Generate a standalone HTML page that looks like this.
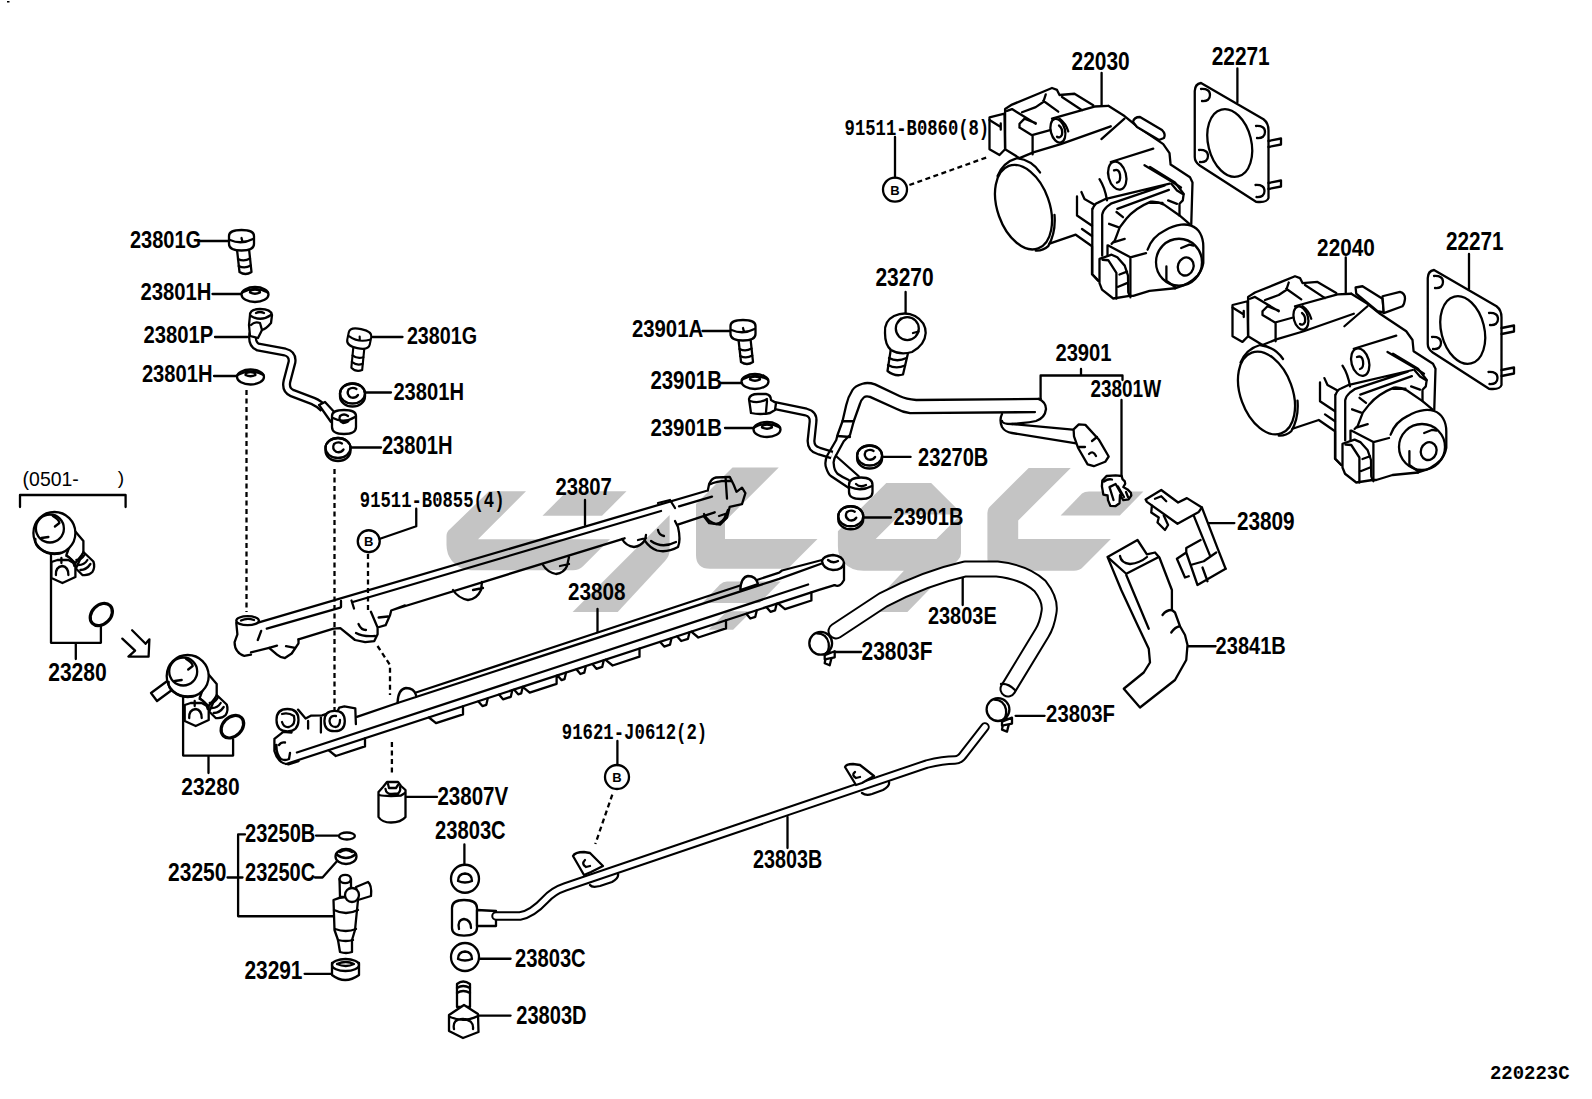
<!DOCTYPE html>
<html><head><meta charset="utf-8"><title>Fuel system diagram</title>
<style>
html,body{margin:0;padding:0;background:#fff;overflow:hidden}
svg{display:block}
.lb{font-family:"Liberation Sans",sans-serif;font-weight:bold;fill:#000}
.lr{font-family:"Liberation Sans",sans-serif;fill:#000}
.lm{font-family:"Liberation Mono",monospace;font-weight:bold;fill:#000}
.a{fill:none;stroke:#000;stroke-width:2.3;stroke-linejoin:round;stroke-linecap:round}
.w{fill:#fff;stroke:#000;stroke-width:2.3;stroke-linejoin:round;stroke-linecap:round}
.d{fill:none;stroke:#000;stroke-width:2.3;stroke-dasharray:5 3.5}
</style></head><body>
<svg width="1592" height="1099" viewBox="0 0 1592 1099">
<rect width="1592" height="1099" fill="#fff"/>
<g fill="#c4c4c4" stroke="none">
<path d="M489,491.3 L526,491.3 L478,539.3 L610,539.3 L583,566.3 Q579,570.3 573,570.3 L471,570.3 Q461,570.3 454,563 L452,561 Q446.5,554 446.5,545 L446.5,536 Q446.5,532 449.5,529.5 Z"/>
<path d="M567,491.3 L626.5,491.3 L602,515.8 L542.5,515.8 Z"/>
<path d="M669.6,515 L669.6,550 Q669.6,556 665,561 L617.7,612 L572.6,612 Z"/>
<path d="M732.5,467.5 L778.75,467.5 L725,521.25 L725,539 L817.5,539 L789.5,567 Q787.75,568.75 784,568.75 L710,568.75 Q696,568.75 696,555 L696,504 Z"/>
<path d="M727,581.4 L780.6,581.4 L759.5,603 L702.3,603 L720,584.5 Q723,581.4 727,581.4 Z"/>
<path d="M726.9,611.3 L751.6,611.3 L733.1,629.8 L708.5,629.8 Z"/>
<path fill-rule="evenodd" d="M886.3,482.9 L931.1,482.9 L961,512.8 L961,553 Q961,557 958,560 L907.4,612.1 L865.2,612.1 L903.9,570.8 L863.4,570.8 Q851,570.8 843,562 Q837.9,556 837.9,546 L837.9,531.3 Z M875.7,539.1 L900.3,514.5 L961,514.5 L936.4,539.1 Z"/>
<path d="M1028.7,467.9 L1070.8,467.9 L1018.2,520.5 L1018.2,539.1 L1110.9,539.1 L1083,567 Q1079.5,570.8 1074,570.8 L1000,570.8 Q987.4,570.8 987.4,558 L987.4,513 Q987.4,509.2 990,506.6 Z"/>
<path d="M1089,491.4 L1143.4,491.4 L1119.8,515.6 L1060.6,515.6 L1082,493.5 Q1084.5,491.4 1089,491.4 Z"/>
</g>

<g class="a" id="leaders">
<path d="M200,241H229 M212.5,294H241 M215,337H247.5 M214,376H237.5 M372.5,337H402.5 M365,392.5H391 M350,447.5H381"/>
<path d="M702.5,331H731 M721,383H742.5 M725,428H754 M905.6,292V317 M883.75,456.9H910.6 M862.5,517.5H891"/>
<path d="M1040.6,399V375.5H1122.5V380 M1081,369V375.5 M1121.5,400V476"/>
<path d="M1208.75,523.1H1234.4 M1187.5,646.25H1215.6 M585,500V525 M597.5,609V632 M962.7,577V605 M834.2,652H861.2 M1015.6,715.8H1044.6"/>
<path d="M51,553.75V642.8H100.9V626.5 M75.8,643V659 M183.1,695V755.6H233.1V739.4 M208.5,757V773"/>
<path d="M20,507V495H125.6V507"/>
<path d="M416.25,508.75V526.25L380,538.75"/>
<circle cx="368.75" cy="541.25" r="11"/>
<path d="M895,137V177.5"/><circle cx="895" cy="189.6" r="12"/>
<path d="M617.4,741V765"/><circle cx="617" cy="777" r="12"/>
<path d="M405.6,796.9H437 M464.4,844.4V865 M479.4,958.75H510.6 M478.75,1015.6H510.6 M787.5,817V848"/>
<path d="M227.5,877.5H242.5 M245,834.4H238.1V916.25H335 M316,835.6H337.5 M315,877.5H322.5L336.25,861.9 M304.6,973.8H331.2"/>
<path d="M1101.6,72.8V105.3 M1237.4,68.4V102.3 M1345.75,257.5V292.5 M1469,254V289"/>
</g>
<g class="d">
<path d="M246.5,390V612 M334.5,469V710 M368,554V612 M377.5,646L390,665V695 M391.9,742V776"/>
<path d="M909.4,185L988.1,156.9 M612.3,794.6L595.3,844"/>
</g>
<g font-family="Liberation Sans" font-weight="bold" font-size="13" text-anchor="middle">
<text x="368.75" y="546">B</text><text x="895" y="194.5">B</text><text x="617" y="782">B</text>
</g>

<rect x="7" y="1" width="2.5" height="1.5" fill="#000"/>
<defs>
<g id="bolt">
<path class="w" d="M-5,14 L-2,41 Q4,45 10,41 L7,13 Z"/>
<path class="a" d="M-3.5,28 Q2.5,31 8.5,27.5 M-2.8,35 Q3.2,38 9.2,34.5"/>
<path class="w" d="M-12.5,5 Q-12.5,-1 0,-1 Q12.5,-1 12.5,5 L12.5,13 Q12.5,19.5 0,19.5 Q-12.5,19.5 -12.5,13 Z"/>
<path class="a" d="M-11.5,9 Q0,14 11.5,8 M0,7 L1,11"/>
</g>
<g id="washerF">
<ellipse class="w" cx="0" cy="2" rx="13.5" ry="7.5"/>
<path class="a" d="M-13,0 Q0,-7 13,0"/>
<path class="a" d="M-5,0 Q-5,-3 0,-3 Q5,-3 5,0 Q0,2.5 -5,0"/>
</g>
<g id="washerR">
<path class="w" d="M-12.5,-1 A12.5,10 0 0 1 12.5,-1 L12.5,2 A12.5,10 0 0 1 -12.5,2 Z"/>
<ellipse class="a" cx="0" cy="-1" rx="12.5" ry="10"/>
<path class="a" d="M4,-5.5 Q0,-8 -4,-5 Q-6.5,0 -1.5,3 Q3,4 5.5,0.5"/>
</g>
</defs>
<use href="#bolt" x="241.5" y="231"/>
<use href="#bolt" x="743" y="321"/>
<g transform="translate(361,330) scale(0.92,0.95) rotate(12)"><use href="#bolt"/></g>
<use href="#washerF" x="255" y="292.5"/>
<use href="#washerF" x="250.5" y="375"/>
<use href="#washerF" x="755" y="379.5"/>
<use href="#washerF" x="767" y="427.5"/>
<use href="#washerR" x="352.5" y="394.5"/>
<use href="#washerR" x="338" y="449"/>
<use href="#washerR" x="869.6" y="456.5"/>
<use href="#washerR" x="850.75" y="517.25"/>
<!-- 23801P pipe -->
<g>
<path fill="none" stroke="#000" stroke-width="9" stroke-linejoin="round" stroke-linecap="butt" d="M253,333 Q251,344 258,347 L285,352 Q293,354 292,362 L287,381 Q285,390 292,393 L313,401 Q320,404 324,409"/>
<path fill="none" stroke="#fff" stroke-width="4.4" stroke-linejoin="round" d="M253,333 Q251,344 258,347 L285,352 Q293,354 292,362 L287,381 Q285,390 292,393 L313,401 Q320,404 324,409"/>
<path class="w" d="M319,405 L325,402 L337,415 L331,422 Z"/>
<path class="w" d="M332,416 Q332,410 344,410 Q356,410 356,416 L356,427 Q356,434 344,434 Q332,434 332,427 Z"/>
<path class="a" d="M333,418 Q344,424 355,417 M348,416 Q344,413 340,416 Q338,421 343,423 Q348,423 349,420"/>
<path class="w" d="M250,315 Q250,309 260,309 Q271,309 272,315 L271,323 Q266,329 262,330 L258,338 L250,336 L249,325 Z"/>
<path class="a" d="M251,316 Q261,322 271,315 M256,313 Q260,311 264,313"/>
<path class="a" d="M251,325 Q255,321 260,323 L262,330"/>
</g>
<!-- 23901 small pipe from banjo 23901A -->
<g>
<path fill="none" stroke="#000" stroke-width="9" stroke-linejoin="round" d="M772,405 L806,412 Q814,414 813,422 L811,441 Q811,449 819,451 L832,455"/>
<path fill="none" stroke="#fff" stroke-width="4.4" stroke-linejoin="round" d="M772,405 L806,412 Q814,414 813,422 L811,441 Q811,449 819,451 L832,455"/>
<path class="w" d="M749,399 Q750,394 758,394 L766,394 Q771,395 771,400 L776,403 L775,410 L770,413 Q760,415 751,413 Z"/>
<path class="a" d="M750,401 Q759,404 767,399 M767,401 L766,412"/>
</g>
<!-- rail 23807 -->
<g class="a">
<path d="M258.9,622.4 L706,491"/>
<path d="M266.8,628.6 L340.3,607.7 M352.8,602 L661,511 M679,506.3 L712,496.6"/>
<path d="M251,652.4 L269.1,647.8 L277,645.6 M298.5,639.4 L333.5,628.6 L340.3,628.1 L355,640 L365.2,642.2 L374.3,641.1 L377.6,634.3 L377.6,627.5 L370.9,611.7 M377.6,627.5 L385.6,625.2 L390.1,615 L391.2,610.5 L405,605.4 M392.5,610 L624.6,538.3 M677.8,524.6 L714.7,512.3"/>
<ellipse class="w" cx="247.6" cy="620.7" rx="11.3" ry="4.5"/>
<path d="M241,620.5 Q247,617.5 254,620"/>
<path d="M236.3,623 L237.4,634.3 L234.6,642.2 Q234.5,648 237.4,651.2 Q240,655 244.2,655.8 L251,654.6 M257.8,640 L261.2,630.9"/>
<path d="M269.1,647.8 L277,654.6 Q281,658 284.9,658 L291.7,653.5 L298.5,643.3 L298.5,639.4 M286,646.1 L295.1,647.8"/>
<path d="M358.5,624 Q361,630 366,630 M356,633 Q363,637 375,636 M341,601 L341,607 M351.5,600.5 L354,608.5 M378.6,617.5 L388,616.5"/>
<!-- cups -->
<path d="M453,590 Q458,598 468,600 Q477,599 481,590 L482,582 M473,590 L483,588"/>
<path d="M543,565 Q547,572 556,574 Q564,573 567,566 L569,557 M560,566 L569,564"/>
<path d="M622,539 Q626,546 634,547 Q641,546 645,540 L646,535 M638,540 L646,538"/>
<path d="M704,514 Q708,522 716,524 Q723,523 726,515 L728,510 M719,516 L728,513"/>
<!-- bracket 2 -->
<path d="M645,541 Q650,548 657,550.5 Q667,553 678,547 Q681,540 678,527 L675,521 M651,541 Q662,549 676,542 M658,530 Q659,535 664,536"/>
<path d="M658,503 L670,500 L675,508"/>
<!-- end fitting right -->
<path d="M707.8,490.5 L709.2,483.7 Q712,478 716,477.5 L729.7,476.8 L733.8,485 L736.5,491.8 L742,487.7 L745.4,493.2 L742,504.1 L729.7,506.9 L727,517.8 L720.1,524.6 L709.2,523.2 L703.8,516.4"/>
<path d="M709.5,484.5 Q718,480 731,481 M725.6,478.2 L727,498.7"/>
</g>
<!-- rail 23808 -->
<g class="a">
<path d="M356.9,716.9 L397.5,703 M416,692.5 L779.2,572.6 L782,570.5 L822,560"/>
<path d="M416,697 L779.2,578.8 L824.5,562.5"/>
<path d="M296.9,752.5 L808.1,584.5"/>
<path d="M286,764 L818.2,590.2 L834.5,585.1"/>
<path class="w" d="M397.5,703 Q398,689 406,688 Q414,688 416,695 L416,697 L397.5,703 Z"/>
<path class="w" d="M740.3,590 Q741,577 748,576 Q756,576 758,584 L740.3,590 Z"/>
<path class="w" d="M822,561 Q823,556 833,555 Q843,556 844,563 Q843,570 833,570 Q823,569 822,561 Z"/>
<path d="M828,560 Q833,564 838,561"/>
<path d="M844,563 L844,580 Q840,588 834.5,585.1"/>
<!-- cups under 23808 -->
<path d="M328.8,750.3 L335.8,756.0 L365.0,746.4 L365.0,738.4 M429.0,717.5 L436.0,723.2 L463.0,714.4 L463.0,706.4 M478.4,701.4 L482.4,706.1 L486.3,704.8 L487.8,698.3 M499.0,694.6 L503.0,699.3 L510.8,696.8 L512.3,690.3 M514.2,689.7 L518.2,694.3 L521.2,693.4 L522.7,686.9 M522.7,686.9 L529.7,692.6 L556.6,683.8 L556.6,675.8 M557.6,675.5 L561.6,680.2 L564.5,679.2 L566.0,672.7 M576.4,669.3 L580.4,674.0 L584.3,672.7 L585.8,666.2 M592.4,664.1 L596.4,668.8 L602.2,666.9 L603.7,660.4 M605.6,659.8 L612.6,665.5 L639.5,656.7 L639.5,648.7 M660.2,641.9 L664.2,646.6 L670.0,644.7 L671.5,638.2 M677.2,636.4 L681.2,641.0 L688.0,638.8 L689.5,632.3 M691.3,631.7 L698.3,637.5 L726.0,628.4 L726.0,620.4 M746.3,613.8 L750.3,618.5 L755.3,616.8 L756.8,610.3 M766.5,607.2 L770.5,611.8 L775.1,610.3 L776.6,603.9 M778.0,603.4 L785.0,609.1 L811.4,600.5 L811.4,592.5"/>
<!-- left end -->
<path class="w" d="M276.5,720 Q276.5,709 287.4,709 Q298.5,709 298.5,720 Q298.5,731 287.4,731.5 Q276.5,731 276.5,720 Z"/>
<path d="M282,714 Q288,712 294,716 Q296,725 289,727 Q284,728 282,722"/>
<path d="M298,709.6 L305.6,718.5 L311.3,715.6 L322.1,715.3 L327.9,713.4 L337.4,711.5 L339.3,707.6 L344.4,706.4 L355.3,708.3 L355.9,724.2 M308.1,721 L308.1,728.7 M320.9,716.6 L320.9,732.5"/>
<path class="w" d="M324.4,721 Q324.4,710.8 334.6,710.8 Q344.8,710.8 344.8,721 Q344.8,731.2 334.6,731.2 Q324.4,731.2 324.4,721 Z"/>
<path d="M336,716 Q330,715 329.5,721 Q330,727 336,727 Q340,726 340,720"/>
<path d="M274.4,738.9 L283.3,731.8 L291.6,732.5 M274.4,739.5 L274.4,751 Q276,757 279.5,760.5 Q283,764 288.4,764.3 L298.6,761.1 M279,745 Q281,742 285,742.5 M276.5,745 Q276,754 281,759 Q285,761 289,759 L290,753"/>
</g>
<defs>
<g id="reg">
<path class="w" d="M20.5,-2 L29,8 L29,20 L21,30 L12,22 Z"/>
<path class="w" d="M29,19 L39,28.5 Q41,34 38,39 Q34,43 28,42 L21.5,35.5 Z"/>
<path class="a" d="M22,27 Q27,27 30,22 M24,32 Q30,32 33,27 M26,37 Q32,37 36,31"/>
<path class="w" d="M-3,29 L3,27 L14,27 L21,31 L21,44 L8,50 L-3,45 Z"/>
<path class="a" d="M1.5,42 Q1,34 8,33 Q14,34 14,42 M12,23 Q18,25 20,33 M7,25 L7,30"/>
<circle class="w" cx="0" cy="0" r="21"/>
<path class="a" d="M-19,6 Q-20,12 -14,16 Q-6,22 6,20"/>
<circle class="a" cx="-4.5" cy="-4.5" r="14"/>
<path class="a" d="M-1.5,-17 Q5,-13 5,-10 L0.5,-6.5 M-13,5 L-6,4"/>
</g>
</defs>
<use href="#reg" x="54.4" y="533"/>
<g>
<path class="w" d="M151,693 L170,679 L176,687 L157,701 Z"/>
<use href="#reg" x="187.7" y="676"/>
</g>
<g class="a">
<ellipse cx="101.3" cy="614.5" rx="12.5" ry="9.5" stroke-width="3.2" transform="rotate(-45 101.3 614.5)"/>
<ellipse cx="232.4" cy="726.7" rx="12.8" ry="9.5" stroke-width="3.2" transform="rotate(-45 232.4 726.7)"/>
<path d="M122.3,638.6 L135.1,650.6 L128.4,656.6 L148.6,656.6 L149.4,639.3 L145.6,643.8 L132.1,630.3"/>
</g>
<!-- 23807V -->
<g class="a">
<path class="w" d="M378.5,792 L378.5,817 Q382,822.5 391,822.5 Q401,822.5 405.5,817 L405.5,790 L401,786 L398,782 L387,782 L383,787 Z"/>
<path d="M379,795 Q383,796 391,796 L401,795.5 L405,793 M385.5,789 Q386,794 392,794 L398,793.5 Q401,791 400,787 M388,784 L389,788 L396,788 L398,785"/>
</g>
<!-- injector 23250 -->
<g>
<ellipse class="w" cx="346" cy="856.5" rx="10.5" ry="7.5"/>
<path class="a" d="M336,854 Q346,862 356,854 M340,852 Q346,848 352,852"/>
<ellipse class="w" cx="346.9" cy="836" rx="8" ry="3.5"/>
<path class="w" d="M339.5,879 L340,897 L351,897 L351,879 Z"/>
<ellipse class="w" cx="345.2" cy="879" rx="5.6" ry="4.2"/>
<path class="w" d="M333.5,900 L334.5,930 L338,940 L340,952 Q346,954 352,952 L352,940 L355,930 L358,900 Q346,894 333.5,900 Z"/>
<path class="a" d="M334,910 Q346,916 358,910 M335,929 Q346,933 356,929 M338,940 Q346,942 353,940"/>
<path class="w" d="M356,887 L368,882 Q372,885 371,896 L358,900 Z"/>
<circle class="w" cx="352" cy="895" r="7"/>
<path class="w" d="M332,963 L332,975 Q345,985 359,975 L359,963 Z"/>
<ellipse class="w" cx="345.5" cy="965" rx="13.5" ry="6"/>
<path class="a" d="M337,964 Q346,960 354,964 Q346,968 337,964"/>
</g>
<!-- 23803C, banjo, bolt -->
<g>
<circle class="w" cx="465" cy="878.75" r="14"/>
<path class="a" d="M458,881 Q458,874 465,873.5 Q472,874 472,881 Q465,884 458,881 Z"/>
<circle class="w" cx="465" cy="957" r="14"/>
<path class="a" d="M458,959 Q458,952 465,951.5 Q472,952 472,959 Q465,962 458,959 Z"/>
<path class="w" d="M452,908 Q452,900 464,900 Q477,900 477,908 L477,928 Q477,935.6 464,935.6 Q452,935.6 452,928 Z"/>
<path class="a" d="M459,929 Q457,920 464,919 Q471,920 471,928"/>
<path class="w" d="M477,910 L496,911 L496,926 L477,926 Z"/>
<path class="w" d="M457,1007 L457,984 Q463,979 470,984 L470,1007 Z"/>
<path class="a" d="M457,988 Q463,984 470,988 M457,993 Q463,989 470,993"/>
<path class="w" d="M449,1015 L464,1005 L478,1014 L478.5,1032 L463,1038 L449,1031 Z"/>
<path class="a" d="M450,1017 Q464,1023 478,1016 M454,1029 Q452,1019 463,1019 Q474,1020 473,1029"/>
</g>
<!-- pipe 23803B -->
<g>
<path fill="none" stroke="#000" stroke-width="9.5" stroke-linejoin="round" stroke-linecap="round" d="M496,916 L520,916 Q532,914 545,900 Q553,891 565,887 L927,764 Q943,760 955,760 Q960,760 964,754 L985,727"/>
<path fill="none" stroke="#fff" stroke-width="5.5" stroke-linejoin="round" stroke-linecap="round" d="M496,916 L520,916 Q532,914 545,900 Q553,891 565,887 L927,764 Q943,760 955,760 Q960,760 964,754 L985,727"/>
<path class="w" d="M573,856 Q575,852 584,852 L590,853 L603,866 L591,872 L584,875 Z"/>
<path class="a" d="M585,860 Q581,864 586,867 L590,866"/>
<path class="w" d="M845,767 Q846,764 853,764 L860,765 L874,776 L862,783 L856,785 Z"/>
<path class="a" d="M855,772 Q851,775 856,778 L860,777"/>
<path class="a" d="M590,885 Q592,888 600,886 L612,882 Q619,878 618,874 M862,793 Q866,796 872,794 L883,790 Q890,786 889,782"/>
</g>
<!-- hose 23803E -->
<g>
<path fill="none" stroke="#000" stroke-width="17" stroke-linecap="round" stroke-linejoin="round" d="M836,631 L883,600 Q925,578 965,569 L997,569 Q1025,572 1040,586 Q1051,600 1049,612 Q1047,625 1042,633 L1008,689"/>
<path fill="none" stroke="#fff" stroke-width="13" stroke-linecap="round" stroke-linejoin="round" d="M836,631 L883,600 Q925,578 965,569 L997,569 Q1025,572 1040,586 Q1051,600 1049,612 Q1047,625 1042,633 L1008,689"/>
<path class="a" d="M1001,684 Q1008,683 1015,690"/>
</g>
<defs>
<g id="clamp">
<path class="w" d="M6,8 L12,10 L9,22 L4,20 Z"/>
<path class="w" d="M4,12 L14,8 L14,14 L4,16 Z"/>
<circle class="w" cx="0" cy="0" r="11.4"/>
<path class="a" d="M-4,-10 Q6,-10 8,0 Q9,8 4,11"/>
</g>
</defs>
<use href="#clamp" x="820.7" y="643.3"/>
<use href="#clamp" x="998" y="709.6"/>
<!-- 23901 main pipe -->
<g class="a">
<path d="M1040.6,398.9 L916.25,400 Q906,399 900,396.25 L875,384.4 Q868,382 862.5,383.75 Q855,386 852.5,390 Q848,397 846.25,405 L842.5,421.25 L837.5,435 L836.25,440 L827.5,455 Q824,462 826.25,468 Q828,474 831.25,476.25 L848.1,487.5"/>
<path d="M1035,412.1 L910,413.1 Q902,412 896.25,408.75 L870,396.9 Q866,395.5 863.75,397.5 Q861,400 860,403.75 L853.75,421.25 L850,435 L843.75,441.25 L836.25,455 Q833,460 833.75,463.75 Q834,470 837.5,473.75 Q842,477 848.75,480"/>
<path d="M836.25,456.25 L858.75,476.25 M842.5,421.25 L853.75,421.25 M837.5,436 L850,437"/>
<path d="M1038.4,398.9 Q1046,402 1046,409 Q1045,418 1036,421 Q1032,422.2 1012,424 Q1002,424 1002,421"/>
<path d="M1002,414 Q999,420 1002,427 Q1005,432 1012,433 L1076.2,443.3"/>
<path d="M1012,424 L1072.7,429.7"/>
<path class="w" d="M1073.6,429.3 L1078.8,424.4 L1085.4,424.9 L1099,439.8 L1108.7,456.5 L1105.2,461.8 L1093.8,466.2 L1087.6,464.4 L1078,447.7 L1074,436.3 Z"/>
<path d="M1092,441 L1097,437 M1079,447 L1085,447 M1089,454 Q1093,450 1096,456"/>
</g>
<!-- banjo end of 23901 -->
<g>
<path class="w" d="M849,485 Q849,477.5 861,477.5 Q872.5,477.5 872.5,485 L872.5,492 Q872.5,499 861,499 Q849,499 849,492 Z"/>
<path class="a" d="M850,487 Q861,492 872,486 M856,484 Q860,488 866,485"/>
</g>
<!-- bolt 23270 -->
<g class="a">
<path class="w" d="M891,348 L887.5,371 Q895,377 903,374.5 L908.5,351 Z"/>
<path d="M889,358 Q897,362.5 906.5,358 M888,365 Q896,369.5 905,365.5"/>
<path class="w" d="M885,333 Q884,321 894,316 Q905,311 915,316 Q925.7,322 925.7,333 Q925,345 912,352 Q900,355.5 891,350 Q885,345 885,333 Z"/>
<circle class="w" cx="907.3" cy="328.6" r="11.5"/>
<path d="M898,322 L901,318.5 M913,333 L918.5,331.5"/>
</g>
<!-- clip 23801W -->
<g class="a">
<path class="w" d="M1102.3,480.6 L1106.5,476 L1115.6,475.3 L1121.7,476 L1122.5,479.1 L1124.8,481.4 L1125.2,483.7 L1123.3,487.1 L1127.5,489.4 L1130.9,492.8 L1131.3,495.5 L1128.6,499.3 L1123.3,500.1 L1120,495 L1119.5,503.2 L1115.3,506.2 L1110.3,505.8 L1108,500.1 L1107.6,495.5 L1103.4,494.7 L1101.9,486.3 Z"/>
<path d="M1109.5,487.1 L1115.6,484 L1117.9,487.9 L1121.7,494.7 M1109.5,487.1 L1113.5,500 M1104,481.5 Q1108,478.5 1112,479.5 M1118,486.5 L1124,497 M1126,492 L1128,497"/>
</g>
<!-- bracket 23809 -->
<g class="a">
<path class="w" d="M1145.6,499.4 L1161.25,490 L1178.1,502.5 L1186.9,498.1 L1201.9,507.5 L1198.75,511.9 L1177.5,523.75 L1146.9,501.9 Z"/>
<path d="M1151.9,505.6 L1151.25,512.5 L1158.75,517.5 L1157.5,522.5 L1165,530 L1168.1,525 L1163.75,515.6"/>
<path d="M1193.75,515.6 L1210,555.6 M1201.9,507.5 L1217.5,548.1 L1225.6,568.75"/>
<path d="M1186.25,548.1 L1200.6,540 M1186.25,548.1 L1186.25,552.5 L1176.9,558.75 L1185,577.5 L1188.75,576.25 M1190.6,565 L1203.75,561.25 L1216.25,552.5 M1190.6,565 L1197.5,585 L1225.6,568.75 M1202.5,567.5 L1207.5,581.25 M1186.25,552.5 L1190.6,565"/>
<path d="M1155,498.75 L1161.25,496.25 L1166.25,501.25"/>
</g>
<!-- protector 23841B -->
<g class="a">
<path class="w" d="M1107.5,556.9 L1137.5,540 L1146.9,554.4 L1155,552.5 L1159.4,557.5 L1171.9,590 L1171.9,610 L1175,612.5 L1180,626.25 L1185,635 L1187.5,645 L1186.25,660 L1175,680 L1140,707.5 L1123.75,688.75 L1143.75,672.5 L1150,662.5 L1148.75,648.75 L1137.5,625 L1121.25,590 Z"/>
<path d="M1108.75,558.1 L1126.25,573.75 L1158.75,556.9 M1126.25,575 L1148.75,628.75 M1120,556 Q1121,563 1130,564 Q1140,563 1147,557 M1171.25,632.5 Q1175,627 1180,626.25 M1162.5,615 Q1166,610 1171.9,610"/>
</g>
<defs>
<g id="tb" class="a">
<!-- left small box -->
<path class="w" d="M1232.5,305 L1247.5,301.25 L1248.1,336.25 L1242.5,341.9 L1232.5,336.25 Z"/>
<path d="M1232.5,307.5 L1243.75,314.4 M1243.75,311 L1243.75,317"/>
<!-- sensor block -->
<path d="M1262.5,345 L1248.1,336.25 L1248.1,296.9 L1255,292.5 L1281.25,281.9 L1295,276.25 L1300,278.1 L1302.5,283.1 L1317.5,281.9 L1336.25,293.1 M1262.5,345 L1276.25,339.4 L1303.75,331.25 L1353.75,313.75"/>
<path d="M1250,298.75 L1255,296.9 L1266.25,303.75 L1278.75,311.25 M1262.5,315 L1275,322.5 L1293.1,317.5 M1262.5,315 L1262.5,311.25 L1267.5,306.25 L1278.75,310.6 M1275.6,323.1 L1275.6,341.25"/>
<path d="M1295,306.25 L1337.5,294.4 L1351.25,293.75 M1265,300 L1278.75,295 L1286.25,290 L1288.75,282.5 M1286.25,288.75 L1301.25,299.4 M1305,285 L1325,298.1"/>
<ellipse cx="1300.9" cy="318.1" rx="7.1" ry="11.9" transform="rotate(-15 1300.9 318.1)"/>
<path d="M1302,313 Q1306,316 1305,322 Q1303,326 1300,324"/>
<path d="M1302.5,306.25 Q1309,311 1311.25,318.75"/>
<!-- body right outline -->
<path d="M1351.25,293.75 L1367.5,303.75 L1380,313.75 L1406.25,331.25 L1412.5,340 L1413.6,351.25 L1433,363.75 L1435.5,368.75 L1434.25,410"/>
<path d="M1344.4,326.25 L1367.5,306.25"/>
<!-- bore -->
<ellipse cx="1266.5" cy="393" rx="26" ry="43" transform="rotate(-20 1266.5 393)"/>
<path d="M1240.6,362.5 Q1246,349 1260,345 Q1275,347 1283,359 M1297.5,400.6 Q1299,418 1291.25,431.25 Q1286,436 1278.75,435.6"/>
<path d="M1292.5,428.75 L1318.75,420 L1335,431.25 L1335,458.75 L1341.25,465"/>
<path d="M1320,382.5 L1320,401.25 L1335,411.25 M1325,414.4 L1335,421.25 M1324.4,378.1 L1327.5,385 L1337.5,390.6 M1342.5,365.6 Q1348,374 1350,386.25"/>
<!-- boss 2 -->
<ellipse class="w" cx="1360.25" cy="362.1" rx="8.75" ry="14" transform="rotate(-15 1360.25 362.1)"/>
<path d="M1357,357 Q1362,355 1363,361 Q1364,368 1360,369"/>
<path d="M1353.75,348.75 L1396.25,335.6 M1387.5,351.9 L1416.25,368.75 L1424,373.75"/>
<!-- flange -->
<path d="M1335.6,395 Q1337,390 1341,388.5 L1348,385.2 L1412.7,370 M1345.2,440.4 L1345.2,400.3 Q1346,396 1350,392.5 L1354.6,389.2 L1407.8,371.6 M1360.3,394.6 L1411.9,376.1 M1335.3,394.6 L1335.3,458.75 L1341.25,465"/>
<path d="M1354.6,429 L1357.8,425.7 L1360.3,419.1 L1362.8,412.6 L1369.3,404.4 Q1378,394 1393.9,387.6 Q1400,387 1407,390.5 L1422.5,401.1 L1432.4,409.3"/>
<path d="M1359.5,397.8 L1366,402.8 M1352.1,409.3 L1361.1,412.6 M1357,427.3 L1367.7,424.1"/>
<path d="M1414.4,370 L1420,376.6 L1426.6,380.6 L1425.8,386.4 L1422.5,389.7 L1422.5,401.1 M1411.1,386.4 L1420,389.7"/>
<path d="M1393,353.75 L1418,368.75 L1426.75,380 M1393,388.75 L1405.5,388.75"/>
<!-- connector -->
<path class="w" d="M1342.5,443.75 L1354.6,439.6 L1360.3,442.1 L1367.7,450.3 L1371,460 L1371.25,476.25 L1372.5,480 L1356.25,482.5 L1345,473.75 L1342.5,467.5 Z"/>
<path d="M1345.5,444.5 L1351.25,445 L1359.4,457.5 L1359.4,482.5 M1373.4,442.1 L1373.4,481.25 M1351.3,430.6 L1373.4,442.1 L1389,438 M1350.5,430.6 L1350.5,440.4 M1362.5,459 L1370,456.25 M1361.25,471 L1370,467.5"/>
<path d="M1372.5,480 L1376.25,480 L1392.5,475 L1418,472.5"/>
<!-- actuator -->
<path d="M1390.6,434.7 Q1395,422 1407.8,415.9 Q1416,411 1424.2,410.1 Q1430,409.6 1434,411 Q1440,413 1443,418.3 Q1446.3,424 1446.3,431.4 L1446.3,447.8 Q1445,455 1440.6,460 Q1432,469 1418,472.5"/>
<circle cx="1422" cy="447" r="23"/>
<ellipse cx="1428.7" cy="451.1" rx="7.8" ry="9" transform="rotate(20 1428.7 451.1)"/>
<path d="M1409.4,451.1 L1409.4,465 L1418,471.25 M1424.2,433 L1432.4,429.8 L1436.5,430.6"/>
</g>
<g id="gasket" class="a">
<path class="w" d="M1427.75,278 Q1428,271 1434,270 L1496.5,306.25 Q1501.5,310 1501.5,317.5 L1501.5,385 Q1500,390 1489,388.75 L1432.75,352.5 Q1427.75,349 1427.75,344 Z"/>
<ellipse cx="1462.75" cy="330" rx="21.5" ry="34.5" transform="rotate(-14 1462.75 330)"/>
<path d="M1434,276 Q1443,275.5 1443,282 Q1443,288.5 1435,288 M1489,313 Q1498,312.5 1498,319 Q1498,325.5 1490,325 M1432,337 Q1441,336.5 1441,343 Q1441,349.5 1433,349 M1488.5,372 Q1497.5,371.5 1497.5,378 Q1497.5,384.5 1489.5,384"/>
<path d="M1501.5,328 L1514,325.5 L1514,331.5 L1501.5,334 M1501.5,370 L1514,367.5 L1514,373.5 L1501.5,376"/>
</g>
</defs>
<use href="#tb"/>
<use href="#gasket"/>
<!-- nipple for 22040 -->
<g class="a">
<path class="w" d="M1355.6,287.5 L1362.5,286.25 L1382.5,298.75 L1383.75,312.5 L1377.5,311.25 L1356.25,293.75 Z"/>
<path class="w" d="M1382.5,296.25 L1400,291.9 Q1405,293 1405,298.75 Q1404.5,304 1402.5,306.25 L1383.75,313.1 Z"/>
</g>
<g transform="translate(-243,-193.9) scale(1,1.0205)">
<use href="#tb"/>
</g>
<g transform="translate(-233,-187)">
<use href="#gasket"/>
</g>
<g class="a" transform="translate(-243,-188)">
<path class="w" d="M1376,310 Q1377,305 1383,305 L1405,318 Q1409,322 1407,326 L1402,328 L1380,315 Z"/>
</g>

<text class="lb" x="1071.5" y="69.6" font-size="25.1" textLength="58.2" lengthAdjust="spacingAndGlyphs">22030</text>
<text class="lb" x="1211.7" y="65.4" font-size="25.3" textLength="58.0" lengthAdjust="spacingAndGlyphs">22271</text>
<text class="lb" x="1317.1" y="256.0" font-size="24.6" textLength="57.7" lengthAdjust="spacingAndGlyphs">22040</text>
<text class="lb" x="1445.9" y="250.0" font-size="25.0" textLength="57.5" lengthAdjust="spacingAndGlyphs">22271</text>
<text class="lb" x="875.4" y="285.8" font-size="24.9" textLength="58.3" lengthAdjust="spacingAndGlyphs">23270</text>
<text class="lb" x="129.9" y="247.8" font-size="24.6" textLength="71.3" lengthAdjust="spacingAndGlyphs">23801G</text>
<text class="lb" x="140.4" y="300.3" font-size="23.2" textLength="71.1" lengthAdjust="spacingAndGlyphs">23801H</text>
<text class="lb" x="143.4" y="342.8" font-size="23.9" textLength="69.9" lengthAdjust="spacingAndGlyphs">23801P</text>
<text class="lb" x="141.9" y="381.8" font-size="23.9" textLength="70.6" lengthAdjust="spacingAndGlyphs">23801H</text>
<text class="lb" x="406.9" y="343.8" font-size="23.2" textLength="70.2" lengthAdjust="spacingAndGlyphs">23801G</text>
<text class="lb" x="393.4" y="399.8" font-size="24.6" textLength="70.6" lengthAdjust="spacingAndGlyphs">23801H</text>
<text class="lb" x="381.9" y="453.7" font-size="25.4" textLength="70.6" lengthAdjust="spacingAndGlyphs">23801H</text>
<text class="lb" x="631.9" y="337.3" font-size="24.6" textLength="71.3" lengthAdjust="spacingAndGlyphs">23901A</text>
<text class="lb" x="650.4" y="388.7" font-size="25.4" textLength="71.5" lengthAdjust="spacingAndGlyphs">23901B</text>
<text class="lb" x="650.4" y="435.8" font-size="23.9" textLength="71.5" lengthAdjust="spacingAndGlyphs">23901B</text>
<text class="lb" x="918.1" y="466.0" font-size="25.6" textLength="70.2" lengthAdjust="spacingAndGlyphs">23270B</text>
<text class="lb" x="893.4" y="524.8" font-size="24.6" textLength="70.0" lengthAdjust="spacingAndGlyphs">23901B</text>
<text class="lb" x="1055.4" y="360.8" font-size="23.9" textLength="56.2" lengthAdjust="spacingAndGlyphs">23901</text>
<text class="lb" x="1090.4" y="397.3" font-size="24.6" textLength="70.7" lengthAdjust="spacingAndGlyphs">23801W</text>
<text class="lb" x="1236.9" y="529.7" font-size="26.4" textLength="57.7" lengthAdjust="spacingAndGlyphs">23809</text>
<text class="lb" x="1215.6" y="653.5" font-size="24.6" textLength="70.2" lengthAdjust="spacingAndGlyphs">23841B</text>
<text class="lb" x="555.4" y="494.8" font-size="24.6" textLength="56.4" lengthAdjust="spacingAndGlyphs">23807</text>
<text class="lb" x="568.1" y="599.8" font-size="24.6" textLength="57.5" lengthAdjust="spacingAndGlyphs">23808</text>
<text class="lb" x="927.9" y="624.4" font-size="24.8" textLength="68.8" lengthAdjust="spacingAndGlyphs">23803E</text>
<text class="lb" x="861.6" y="659.7" font-size="24.9" textLength="70.9" lengthAdjust="spacingAndGlyphs">23803F</text>
<text class="lb" x="1046.1" y="721.8" font-size="24.8" textLength="68.8" lengthAdjust="spacingAndGlyphs">23803F</text>
<text class="lb" x="48.2" y="681.1" font-size="25.5" textLength="58.5" lengthAdjust="spacingAndGlyphs">23280</text>
<text class="lb" x="181.3" y="794.8" font-size="24.6" textLength="58.3" lengthAdjust="spacingAndGlyphs">23280</text>
<text class="lb" x="437.4" y="804.7" font-size="25.4" textLength="70.8" lengthAdjust="spacingAndGlyphs">23807V</text>
<text class="lb" x="435.0" y="839.1" font-size="25.6" textLength="70.7" lengthAdjust="spacingAndGlyphs">23803C</text>
<text class="lb" x="515.0" y="967.2" font-size="25.5" textLength="70.7" lengthAdjust="spacingAndGlyphs">23803C</text>
<text class="lb" x="516.3" y="1023.5" font-size="25.6" textLength="70.2" lengthAdjust="spacingAndGlyphs">23803D</text>
<text class="lb" x="753.0" y="867.7" font-size="25.8" textLength="69.2" lengthAdjust="spacingAndGlyphs">23803B</text>
<text class="lb" x="245.0" y="841.6" font-size="25.6" textLength="70.3" lengthAdjust="spacingAndGlyphs">23250B</text>
<text class="lb" x="168.1" y="881.0" font-size="25.7" textLength="58.3" lengthAdjust="spacingAndGlyphs">23250</text>
<text class="lb" x="245.0" y="881.0" font-size="25.7" textLength="70.1" lengthAdjust="spacingAndGlyphs">23250C</text>
<text class="lb" x="244.4" y="979.0" font-size="25.1" textLength="58.1" lengthAdjust="spacingAndGlyphs">23291</text>
<text class="lr" x="22.6" y="486.0" font-size="20.2" textLength="56.2" lengthAdjust="spacingAndGlyphs">(0501-</text>
<text class="lr" x="117.8" y="483.8" font-size="17.6" textLength="6.4" lengthAdjust="spacingAndGlyphs">)</text>
<text class="lm" x="359.8" y="506.7" font-size="21.5" textLength="144.7" lengthAdjust="spacingAndGlyphs">91511-B0855(4)</text>
<text class="lm" x="844.6" y="135.4" font-size="21.8" textLength="144.6" lengthAdjust="spacingAndGlyphs">91511-B0860(8)</text>
<text class="lm" x="561.8" y="739.3" font-size="22.1" textLength="145.4" lengthAdjust="spacingAndGlyphs">91621-J0612(2)</text>
<text class="lm" x="1489.9" y="1078.8" font-size="20.6" textLength="79.7" lengthAdjust="spacingAndGlyphs">220223C</text>
</svg>
</body></html>
